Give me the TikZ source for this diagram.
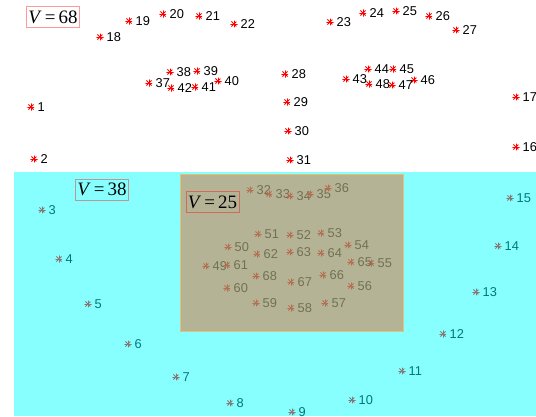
\documentclass[tikz,border=0pt]{standalone}
\usepackage{fontspec}
\setsansfont{Liberation Sans}
\newfontfamily\vfont{Liberation Serif}
\definecolor{ptred}{RGB}{255,0,0}
\definecolor{regcyan}{RGB}{0,255,255}
\definecolor{regorange}{RGB}{225,105,45}
\definecolor{boxedge}{RGB}{222,196,120}
\usetikzlibrary{positioning}

\begin{document}
\begin{tikzpicture}[x=0.02cm, y=-0.02cm,
  lmklbl/.style={font=\sffamily\fontsize{7.3}{8}\selectfont, inner sep=0pt, label distance=0.045cm},
  lmk/.style={circle, inner sep=0pt, minimum size=0.15cm,
    path picture={\foreach \a in {0,45,90,135} \draw[ptred, line width=0.45pt] (path picture bounding box.center) ++(\a:0.075cm) -- ++(\a+180:0.15cm);},
    label={[lmklbl]right:#1}},
  vbox/.style={draw=ptred, draw opacity=0.4, line width=0.5pt, minimum width=1.06cm, minimum height=0.42cm, inner sep=0pt, font=\vfont\fontsize{10.8}{12}\selectfont}]
  \useasboundingbox (0,0) rectangle (536,416);
  % jaw line
  \node[lmk=1] (p1) at (31,107) {};
  \node[lmk=2] (p2) at (34,159) {};
  \node[lmk=3] (p3) at (42,210) {};
  \node[lmk=4] (p4) at (59,259) {};
  \node[lmk=5] (p5) at (88,304) {};
  \node[lmk=6] (p6) at (128,344) {};
  \node[lmk=7] (p7) at (176,377) {};
  \node[lmk=8] (p8) at (230,403) {};
  \node[lmk=9] (p9) at (292,412) {};
  \node[lmk=10] (p10) at (352,400) {};
  \node[lmk=11] (p11) at (402,371) {};
  \node[lmk=12] (p12) at (443,334) {};
  \node[lmk=13] (p13) at (476,292) {};
  \node[lmk=14] (p14) at (498,246) {};
  \node[lmk=15] (p15) at (510,198) {};
  \node[lmk=16] (p16) at (516,147) {};
  \node[lmk=17] (p17) at (516,97) {};
  % brows
  \node[lmk=18] (p18) at (100,37) {};
  \node[lmk=19] (p19) at (129,21) {};
  \node[lmk=20] (p20) at (163,14) {};
  \node[lmk=21] (p21) at (199,16) {};
  \node[lmk=22] (p22) at (234,24) {};
  \node[lmk=23] (p23) at (330,22) {};
  \node[lmk=24] (p24) at (363,13) {};
  \node[lmk=25] (p25) at (396,11) {};
  \node[lmk=26] (p26) at (429,16) {};
  \node[lmk=27] (p27) at (456,30) {};
  % nose
  \node[lmk=28] (p28) at (285,74) {};
  \node[lmk=29] (p29) at (287,102) {};
  \node[lmk=30] (p30) at (288,131) {};
  \node[lmk=31] (p31) at (290,160) {};
  \node[lmk=32] (p32) at (250,190) {};
  \node[lmk=33] (p33) at (269,194) {};
  \node[lmk=34] (p34) at (290,196) {};
  \node[lmk=35] (p35) at (310,194) {};
  \node[lmk=36] (p36) at (328,188) {};
  % eyes
  \node[lmk=37] (p37) at (149,83) {};
  \node[lmk=38] (p38) at (170,72) {};
  \node[lmk=39] (p39) at (197,71) {};
  \node[lmk=40] (p40) at (218,81) {};
  \node[lmk=41] (p41) at (195,87) {};
  \node[lmk=42] (p42) at (171,88) {};
  \node[lmk=43] (p43) at (346,79) {};
  \node[lmk=44] (p44) at (368,69) {};
  \node[lmk=45] (p45) at (393,69) {};
  \node[lmk=46] (p46) at (414,80) {};
  \node[lmk=47] (p47) at (392,85) {};
  \node[lmk=48] (p48) at (369,84) {};
  % mouth
  \node[lmk=49] (p49) at (206,266) {};
  \node[lmk=50] (p50) at (228,247) {};
  \node[lmk=51] (p51) at (258,234) {};
  \node[lmk=52] (p52) at (290,235) {};
  \node[lmk=53] (p53) at (321,233) {};
  \node[lmk=54] (p54) at (348,245) {};
  \node[lmk=55] (p55) at (371,263) {};
  \node[lmk=56] (p56) at (351,286) {};
  \node[lmk=57] (p57) at (325,303) {};
  \node[lmk=58] (p58) at (291,308) {};
  \node[lmk=59] (p59) at (256,303) {};
  \node[lmk=60] (p60) at (227,288) {};
  \node[lmk=61] (p61) at (227,265) {};
  \node[lmk=62] (p62) at (257,254) {};
  \node[lmk=63] (p63) at (290,252) {};
  \node[lmk=64] (p64) at (321,253) {};
  \node[lmk=65] (p65) at (351,262) {};
  \node[lmk=66] (p66) at (323,275) {};
  \node[lmk=67] (p67) at (291,282) {};
  \node[lmk=68] (p68) at (256,276) {};
  % regions
  \fill[regcyan, fill opacity=0.47] (14,172) rectangle (536,416);
  \filldraw[fill=regorange, fill opacity=0.5, draw=boxedge, line width=0.5pt] (180,174) rectangle (403,331);
  \node[vbox] (v68) at (53,17) {\textit{V}\,=\,68};
  \node[vbox] (v38) at (102,189.5) {\textit{V}\,=\,38};
  \node[vbox] (v25) at (212.5,202) {\textit{V}\,=\,25};
\end{tikzpicture}
\end{document}
